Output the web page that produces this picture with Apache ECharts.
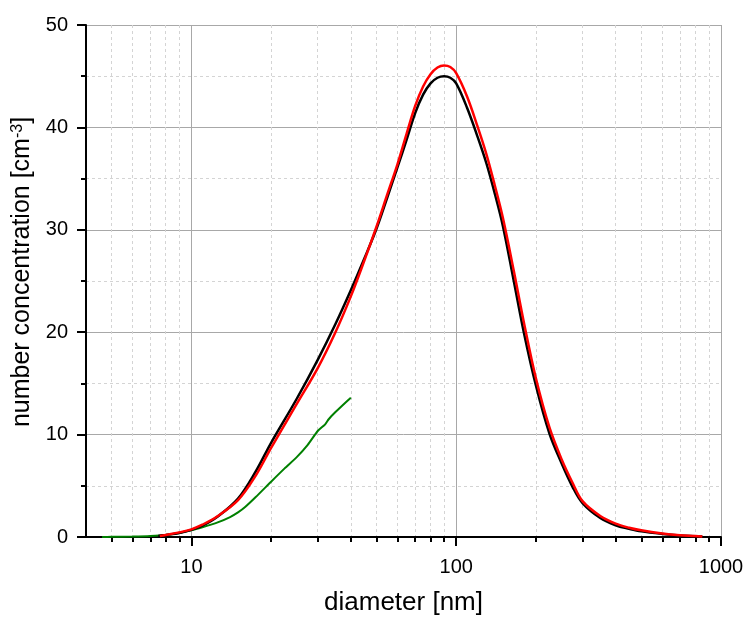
<!DOCTYPE html>
<html>
<head>
<meta charset="utf-8">
<script src="https://cdn.jsdelivr.net/npm/echarts@6/dist/echarts.min.js"></script>
<style>html,body{margin:0;padding:0;background:#fff;}#c{width:746px;height:617px;}</style>
</head>
<body>
<div id="c"></div>
<script>
// Diameters (nm) and number concentrations (cm^-3)
const blackD = [7.5, 8, 9, 10, 11, 12.5, 15, 17.5, 20, 25, 30, 35, 40, 45, 50, 55, 60, 65, 70, 75, 80, 85, 90, 95, 100, 110, 120, 130, 140, 150, 165, 180, 200, 225, 250, 275, 300, 350, 400, 450, 500, 600, 700, 800, 850];
const blackN = [0.1, 0.2, 0.4, 0.7, 1.1, 1.95, 3.75, 6.4, 9.2, 13.5, 17.3, 20.8, 24.1, 27.2, 30.1, 33.2, 36.1, 38.8, 41.4, 43.2, 44.3, 44.85, 45.0, 44.85, 44.3, 41.9, 39.2, 36.5, 33.5, 30.4, 25.0, 20.0, 14.8, 10.1, 7.2, 4.9, 3.3, 1.85, 1.15, 0.8, 0.55, 0.3, 0.15, 0.08, 0.05];

const redD = [7.6, 8, 9, 10, 11, 12.5, 15, 17.5, 20, 25, 30, 35, 40, 45, 50, 55, 60, 65, 70, 75, 80, 85, 90, 95, 100, 110, 120, 130, 140, 150, 165, 180, 200, 225, 250, 275, 300, 350, 400, 450, 500, 600, 700, 800, 850];
const redN = [0.1, 0.2, 0.45, 0.75, 1.2, 2.0, 3.6, 6.0, 8.7, 13.0, 16.5, 20.0, 23.5, 27.0, 30.3, 33.5, 36.4, 39.4, 42.1, 44.0, 45.2, 45.85, 46.05, 45.9, 45.3, 43.0, 40.2, 37.4, 34.3, 31.2, 26.0, 21.0, 15.5, 10.7, 7.6, 5.3, 3.5, 2.05, 1.3, 0.9, 0.65, 0.35, 0.18, 0.1, 0.05];

const greenD = [4.6, 5, 6, 7, 8, 9, 10, 11, 12.5, 14, 15, 16, 17.5, 20, 22.5, 25, 27.5, 30, 32, 33, 35, 37, 40];
const greenN = [0, 0.02, 0.05, 0.1, 0.2, 0.4, 0.65, 0.95, 1.4, 1.95, 2.4, 2.95, 3.9, 5.4, 6.7, 7.8, 9.0, 10.35, 11.0, 11.5, 12.2, 12.8, 13.6];

const xMajorTicks = [10, 100, 1000];
const xMinorTicks = [5, 6, 7, 8, 9, 20, 30, 40, 50, 60, 70, 80, 90, 200, 300, 400, 500, 600, 700, 800, 900];

const zip = (d, n) => d.map((v, i) => [v, n[i]]);
const FONT = 'Arial, "Liberation Sans", sans-serif';

const chart = echarts.init(document.getElementById('c'));
chart.setOption({
  animation: false,
  backgroundColor: '#fff',
  grid: { left: 86, right: 25, top: 25, bottom: 80, containLabel: false, outerBoundsMode: 'none' },
  xAxis: [
    {
      type: 'log', logBase: 10, min: 4, max: 1000,
      name: 'diameter [nm]', nameLocation: 'middle', nameGap: 53,
      nameTextStyle: { fontSize: 26, color: '#000', fontFamily: FONT },
      axisLine: { show: true, lineStyle: { color: '#000', width: 2 } },
      axisTick: { show: true, length: 9, customValues: xMajorTicks, lineStyle: { color: '#000', width: 2 } },
      axisLabel: { customValues: xMajorTicks, formatter: v => String(v), fontSize: 20, color: '#000', fontFamily: FONT, margin: 20 },
      splitLine: { show: true, lineStyle: { color: '#a8a8a8', width: 1 } },
      minorTick: { show: false }
    },
    {
      type: 'log', logBase: 10, min: 4, max: 1000, position: 'bottom',
      axisLine: { show: false },
      axisTick: { show: true, length: 5, customValues: xMinorTicks, lineStyle: { color: '#000', width: 2 } },
      axisLabel: { show: false },
      splitLine: { show: true, lineStyle: { color: '#d4d4d4', width: 1, type: [3, 3] } }
    }
  ],
  yAxis: {
    type: 'value', min: 0, max: 50, interval: 10,
    name: 'number concentration [cm{sup|-3}]', nameLocation: 'middle', nameGap: 40, nameRotate: 90,
    nameTextStyle: {
      fontSize: 25, color: '#000', fontFamily: FONT, padding: [0, 0, 0, 18],
      rich: { sup: { fontSize: 16, color: '#000', fontFamily: FONT, verticalAlign: 'top', lineHeight: 16 } }
    },
    axisLine: { show: true, lineStyle: { color: '#000', width: 2 } },
    axisTick: { show: true, length: 9, lineStyle: { color: '#000', width: 2 } },
    axisLabel: { fontSize: 20, color: '#000', fontFamily: FONT, margin: 18 },
    splitLine: { show: true, lineStyle: { color: '#a8a8a8', width: 1 } },
    minorTick: { show: true, splitNumber: 2, length: 5, lineStyle: { color: '#000', width: 2 } },
    minorSplitLine: { show: true, lineStyle: { color: '#d4d4d4', width: 1, type: [3, 3] } }
  },
  series: [
    { name: 'green', type: 'line', xAxisIndex: 0, data: zip(greenD, greenN), showSymbol: false, smooth: 0.2, lineStyle: { color: '#008000', width: 2 }, z: 3 },
    { name: 'black', type: 'line', xAxisIndex: 0, data: zip(blackD, blackN), showSymbol: false, smooth: 0.35, lineStyle: { color: '#000', width: 2.5 }, z: 4 },
    { name: 'red', type: 'line', xAxisIndex: 0, data: zip(redD, redN), showSymbol: false, smooth: 0.35, lineStyle: { color: '#ff0000', width: 2.5 }, z: 5 }
  ]
});
</script>
</body>
</html>
